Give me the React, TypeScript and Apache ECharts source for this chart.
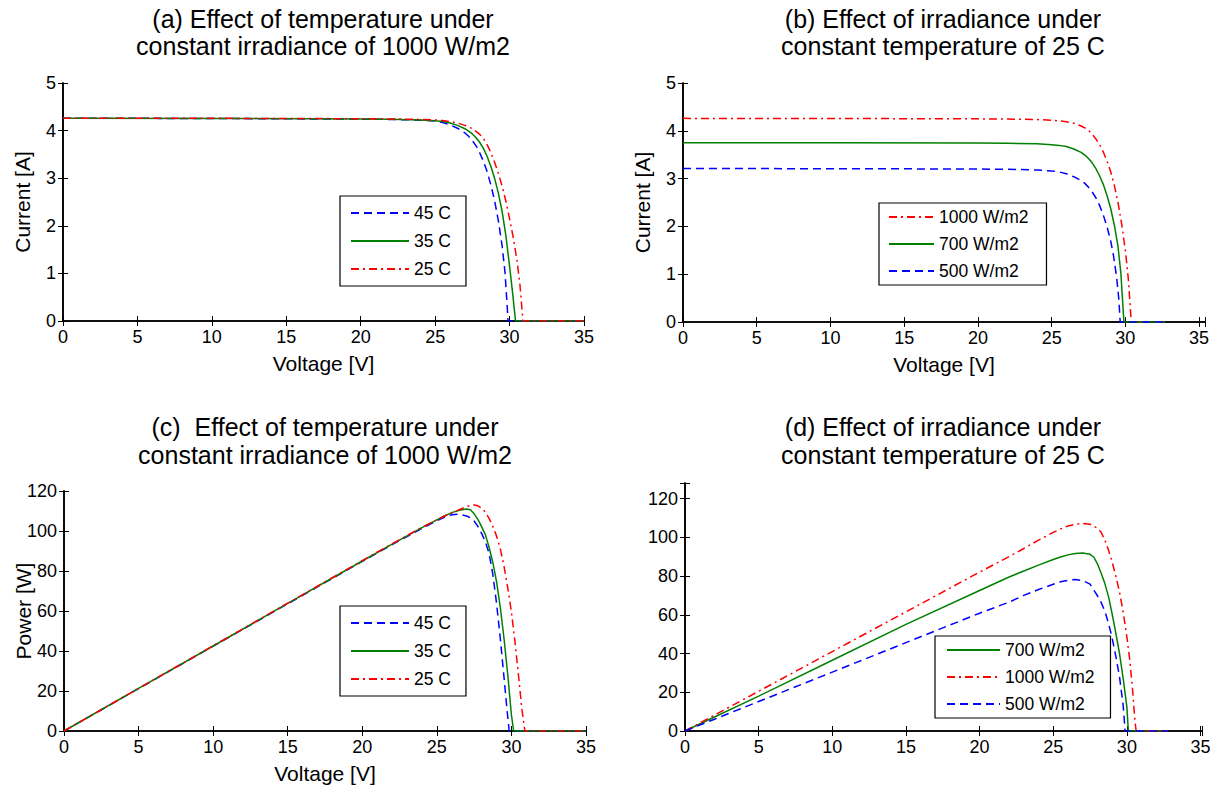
import React, { useEffect, useRef } from "react";
import * as echarts from "echarts";

const FONT = "'Liberation Sans', Arial, Helvetica, sans-serif";

// ---------- (a) I-V curves, temperature effect at 1000 W/m2 ----------
const ivT45: number[][] = [[0,4.26],[10,4.255],[20,4.24],[22,4.235],[24,4.22],[25,4.2],[25.5,4.17],[26,4.12],[26.5,4.05],[27,3.95],[27.25,3.88],[27.5,3.79],[27.75,3.68],[28,3.53],[28.25,3.35],[28.5,3.13],[28.75,2.85],[29,2.52],[29.25,2.1],[29.5,1.58],[29.7,1.0],[29.9,0],[35,0]];
const ivT35: number[][] = [[0,4.26],[10,4.255],[20,4.245],[22,4.24],[24,4.225],[25,4.205],[25.5,4.19],[26,4.16],[26.5,4.11],[27,4.04],[27.25,3.99],[27.5,3.93],[27.75,3.85],[28,3.75],[28.25,3.62],[28.5,3.45],[28.75,3.24],[29,2.99],[29.25,2.68],[29.5,2.3],[29.75,1.8],[30,1.15],[30.2,0.6],[30.4,0],[35,0]];
const ivT25: number[][] = [[0,4.26],[10,4.258],[20,4.25],[22,4.245],[24,4.235],[25,4.225],[25.5,4.21],[26,4.19],[26.5,4.16],[27,4.11],[27.5,4.04],[28,3.92],[28.25,3.83],[28.5,3.7],[28.75,3.53],[29,3.33],[29.25,3.1],[29.5,2.83],[29.75,2.52],[30,2.15],[30.25,1.75],[30.5,1.27],[30.7,0.75],[30.9,0],[35,0]];

// ---------- (b) I-V curves, irradiance effect at 25 C ----------
const ivG1000: number[][] = [[0,4.26],[10,4.258],[20,4.25],[22,4.245],[24,4.235],[25,4.22],[25.5,4.21],[26,4.19],[26.5,4.16],[27,4.1],[27.25,4.06],[27.5,4.01],[27.75,3.93],[28,3.83],[28.25,3.71],[28.5,3.56],[28.75,3.37],[29,3.15],[29.25,2.86],[29.5,2.5],[29.75,2.05],[30,1.5],[30.2,0.9],[30.4,0],[32.7,0]];
const ivG700: number[][] = [[0,3.75],[10,3.748],[20,3.743],[22,3.738],[24,3.728],[25,3.71],[25.5,3.695],[26,3.67],[26.5,3.62],[27,3.55],[27.25,3.49],[27.5,3.42],[27.75,3.33],[28,3.21],[28.25,3.06],[28.5,2.88],[28.75,2.65],[29,2.38],[29.25,2.03],[29.5,1.58],[29.7,1.0],[29.9,0],[32.7,0]];
const ivG500: number[][] = [[0,3.21],[10,3.208],[20,3.2],[22,3.195],[24,3.18],[25,3.16],[25.5,3.14],[26,3.1],[26.5,3.04],[27,2.96],[27.25,2.9],[27.5,2.82],[27.75,2.72],[28,2.6],[28.25,2.44],[28.5,2.24],[28.75,2.0],[29,1.7],[29.2,1.38],[29.4,0.95],[29.55,0.5],[29.65,0],[32.7,0]];

// ---------- (c) P-V curves, temperature effect ----------
const pvT45: number[][] = [[0,0],[5,21.2],[10,42.4],[15,63.6],[20,84.8],[22,93.2],[24,101.3],[25,105.2],[25.5,106.9],[26,108.1],[26.5,108.4],[27,107.5],[27.25,106.6],[27.5,105],[27.75,102.3],[28,98.8],[28.25,94.7],[28.5,88.8],[28.75,78.5],[29,64],[29.25,46.5],[29.5,27],[29.7,11],[29.85,0],[35,0]];
const pvT35: number[][] = [[0,0],[5,21.3],[10,42.5],[15,63.8],[20,85],[22,93.4],[24,101.7],[25,105.6],[25.5,107.5],[26,109.2],[26.5,110.4],[27,111],[27.25,110.6],[27.5,108.6],[27.75,105.8],[28,102.2],[28.25,98.2],[28.5,91.9],[28.75,84.4],[29,74.8],[29.25,62],[29.5,46.5],[29.75,28.5],[30,8],[30.15,0],[35,0]];
const pvT25: number[][] = [[0,0],[5,21.3],[10,42.6],[15,63.9],[20,85.2],[22,93.6],[24,101.8],[25,105.6],[25.5,107.4],[26,109.1],[26.5,110.6],[27,112.3],[27.25,112.8],[27.5,113],[27.75,112.6],[28,111.4],[28.25,109.5],[28.5,106.3],[28.75,102.4],[29,97.5],[29.25,91.2],[29.5,82.5],[29.75,71.8],[30,59.5],[30.25,43.8],[30.5,26],[30.7,11],[30.9,0],[35,0]];

// ---------- (d) P-V curves, irradiance effect ----------
const pvG700: number[][] = [[0,0],[2,7.2],[5,18],[10,36.5],[15,55],[20,72.5],[22,79.5],[23,82.6],[24,85.6],[25,88.5],[25.5,89.8],[26,90.9],[26.5,91.6],[27,91.9],[27.5,91.2],[27.75,89.8],[28,86.3],[28.25,81.5],[28.5,76.2],[28.75,69.5],[29,60.5],[29.25,50.5],[29.5,40],[29.75,27],[30,12.3],[30.1,0],[32.8,0]];
const pvG1000: number[][] = [[0,0],[2,8.2],[5,20.5],[10,41],[15,61.5],[20,82],[22,90],[23,94.2],[24,98.5],[25,102.5],[25.5,104.3],[26,105.8],[26.5,106.7],[27,107.1],[27.5,106.7],[28,104.7],[28.25,102.6],[28.5,98.6],[28.75,93.4],[29,87.2],[29.25,80],[29.5,71.6],[29.75,61.4],[30,48.5],[30.2,36.5],[30.4,20],[30.55,5],[30.63,0],[32.8,0]];
const pvG500: number[][] = [[0,0],[2,6.1],[5,15.2],[10,30.4],[15,45.6],[20,60.8],[22,66.5],[23,70],[24,73],[25,75.7],[25.5,77],[26,77.8],[26.5,78.2],[27,77.6],[27.5,75.8],[28,69.8],[28.25,66.4],[28.5,62],[28.75,55.7],[29,48],[29.25,38.5],[29.5,28],[29.75,13],[29.88,0],[32.8,0]];

// ---------- labels ----------
const titlesTop = [
  ["(a) Effect of temperature under", "constant irradiance of 1000 W/m2"],
  ["(b) Effect of irradiance under", "constant temperature of 25 C"],
  ["(c)  Effect of temperature under", "constant irradiance of 1000 W/m2"],
  ["(d) Effect of irradiance under", "constant temperature of 25 C"],
];
const xNames = ["Voltage [V]", "Voltage [V]", "Voltage [V]", ""];
const yNames = ["Current [A]", "Current [A]", "Power [W]", ""];
const tempLegend = ["45 C", "35 C", "25 C"];
const irrLegendB = ["1000 W/m2", "700 W/m2", "500 W/m2"];
const irrLegendD = ["700 W/m2", "1000 W/m2", "500 W/m2"];

const BLUE = "#0000ff";
const GREEN = "#008000";
const RED = "#ff0000";
const DASH = [8, 5];
const DASHDOT = [8, 4, 2, 4];

export default function App() {
  const ref = useRef<HTMLDivElement>(null);
  useEffect(() => {
    document.body.style.margin = "0";
    const chart = echarts.init(ref.current!, undefined, { renderer: "svg" });

    const grids = [
      { left: 63, top: 83, width: 521, height: 238 },
      { left: 683, top: 83, width: 522, height: 239 },
      { left: 64, top: 491, width: 522, height: 240 },
      { left: 685, top: 483, width: 517, height: 248 },
    ];
    const xMax = [35, 35.4, 35, 35.1];
    const yMax = [5, 5, 120, 128];
    const yInt = [1, 1, 20, 20];
    const titleCx = [323, 943, 325, 943];
    const titleY = [[19, 46], [19, 46], [427, 455], [427, 455]];

    const axisLine = { show: true, lineStyle: { color: "#000", width: 1.6 } };
    const tick = { show: true, inside: true, length: 5, lineStyle: { color: "#000", width: 1 } };
    const lblStyle = { color: "#000", fontSize: 18, fontFamily: FONT };
    const fmt = (step: number) => (v: number) =>
      Math.abs(v / step - Math.round(v / step)) < 1e-6 ? String(Math.round(v)) : "";

    const xAxis: any[] = [];
    const yAxis: any[] = [];
    grids.forEach((g, i) => {
      xAxis.push({
        type: "value", gridIndex: i, min: 0, max: xMax[i], interval: 5, position: "bottom",
        axisLine, axisTick: tick, splitLine: { show: false },
        axisLabel: { ...lblStyle, margin: 7, formatter: fmt(5) },
        name: xNames[i], nameLocation: "middle", nameGap: 32, nameMoveOverlap: false,
        nameTextStyle: { color: "#000", fontSize: 21, fontFamily: FONT },
      });
      xAxis.push({
        type: "value", gridIndex: i, min: 0, max: xMax[i], interval: 5, position: "top",
        axisLine, axisTick: tick, splitLine: { show: false }, axisLabel: { show: false },
      });
      yAxis.push({
        type: "value", gridIndex: i, min: 0, max: yMax[i], interval: yInt[i], position: "left",
        axisLine, axisTick: tick, splitLine: { show: false },
        axisLabel: { ...lblStyle, margin: 7, formatter: fmt(yInt[i]) },
        name: yNames[i], nameLocation: "middle", nameGap: 30, nameRotate: 90, nameMoveOverlap: false,
        nameTextStyle: { color: "#000", fontSize: 21, fontFamily: FONT },
      });
      yAxis.push({
        type: "value", gridIndex: i, min: 0, max: yMax[i], interval: yInt[i], position: "right",
        axisLine, axisTick: tick, splitLine: { show: false }, axisLabel: { show: false },
      });
    });

    const line = (name: string, data: number[][], grid: number, color: string, type: any) => ({
      type: "line", name, data, xAxisIndex: grid * 2, yAxisIndex: grid * 2,
      symbol: "none", showSymbol: false, smooth: false,
      lineStyle: { color, width: 1.5, type },
      itemStyle: { color },
      emphasis: { disabled: true },
    });

    const series = [
      line("45 C", ivT45, 0, BLUE, DASH),
      line("35 C", ivT35, 0, GREEN, "solid"),
      line("25 C", ivT25, 0, RED, DASHDOT),
      line("1000 W/m2", ivG1000, 1, RED, DASHDOT),
      line("700 W/m2", ivG700, 1, GREEN, "solid"),
      line("500 W/m2", ivG500, 1, BLUE, DASH),
      line("45 C", pvT45, 2, BLUE, DASH),
      line("35 C", pvT35, 2, GREEN, "solid"),
      line("25 C", pvT25, 2, RED, DASHDOT),
      line("700 W/m2", pvG700, 3, GREEN, "solid"),
      line("1000 W/m2", pvG1000, 3, RED, DASHDOT),
      line("500 W/m2", pvG500, 3, BLUE, DASH),
    ];

    const legendBase = {
      orient: "vertical", selectedMode: false, backgroundColor: "#fff",
      borderColor: "#000", borderWidth: 1.2, borderRadius: 0,
      itemHeight: 18, itemGap: 10,
      itemStyle: { color: "transparent", borderColor: "transparent", borderWidth: 0, opacity: 0 },
      textStyle: { color: "#000", fontSize: 17.5, fontFamily: FONT, lineHeight: 18 },
    };
    const legend = [
      { ...legendBase, data: tempLegend, left: 340, top: 196, itemWidth: 58, padding: [8, 15, 8, 10] },
      { ...legendBase, data: irrLegendB, left: 879, top: 203, itemWidth: 45, itemGap: 9, padding: [5, 18, 5, 9] },
      { ...legendBase, data: tempLegend, left: 340, top: 606, itemWidth: 58, padding: [8, 15, 8, 10] },
      { ...legendBase, data: irrLegendD, left: 935, top: 636, itemWidth: 53, itemGap: 9, padding: [5, 16, 5, 11] },
    ];

    const graphic: any[] = [];
    titlesTop.forEach((lines, i) => {
      lines.forEach((t, k) => {
        graphic.push({
          type: "text", x: titleCx[i], y: titleY[i][k],
          style: {
            text: t, fill: "#000", font: `25px ${FONT}`,
            align: "center", verticalAlign: "middle", textAlign: "center", textVerticalAlign: "middle",
          },
        });
      });
    });

    chart.setOption({
      animation: false,
      backgroundColor: "#fff",
      grid: grids.map((g) => ({ ...g, containLabel: false, outerBoundsMode: "none" })),
      xAxis, yAxis, series, legend, graphic,
      tooltip: { show: false },
    });
    return () => chart.dispose();
  }, []);
  return <div ref={ref} style={{ width: 1216, height: 787 }} />;
}
